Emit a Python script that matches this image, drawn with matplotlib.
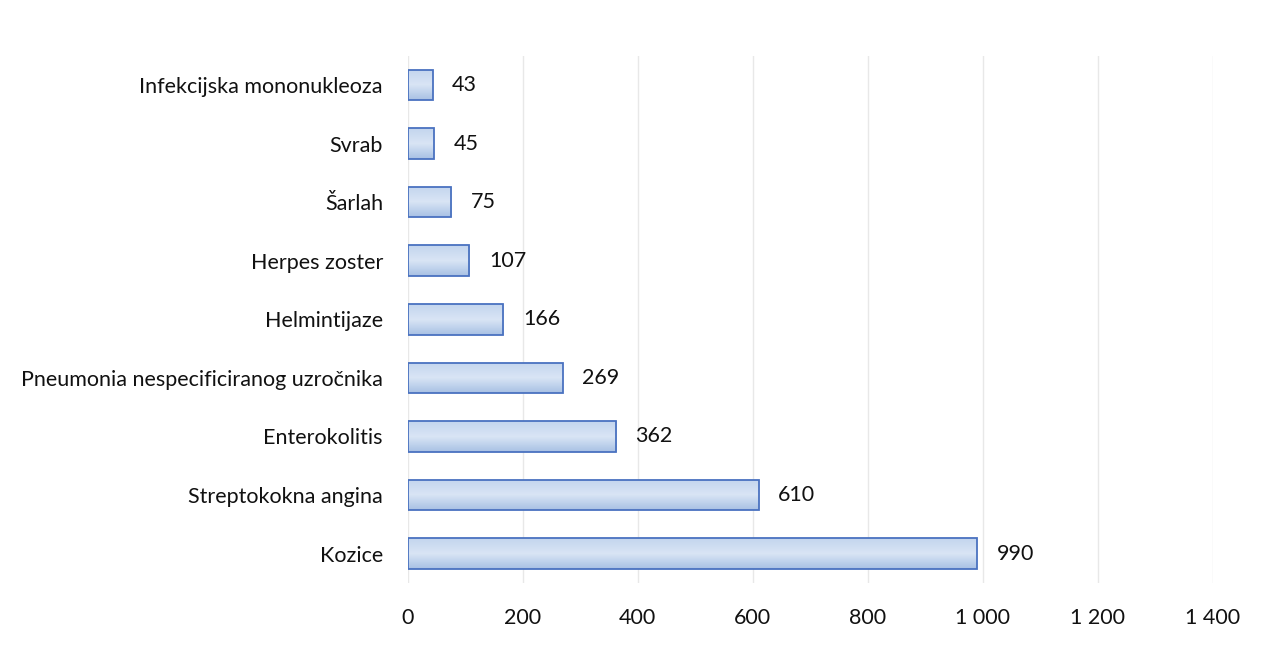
import matplotlib.pyplot as plt
import numpy as np
from matplotlib.colors import LinearSegmentedColormap

categories = ["Kozice", "Streptokokna angina", "Enterokolitis",
              "Pneumonia nespecificiranog uzročnika", "Helmintijaze",
              "Herpes zoster", "Šarlah", "Svrab", "Infekcijska mononukleoza"]
values = [990, 610, 362, 269, 166, 107, 75, 45, 43]
xticks = [0, 200, 400, 600, 800, 1000, 1200, 1400]
xtick_labels = ["0", "200", "400", "600", "800", "1 000", "1 200", "1 400"]

plt.rcParams['font.family'] = ['Lato', 'DejaVu Sans']

fig = plt.figure(figsize=(12.67, 6.55), dpi=100)
ax = fig.add_axes([0.322, 0.110, 0.635, 0.805])

y = np.arange(len(categories))
bars = ax.barh(y, values, height=0.52, color='none', edgecolor='#4a72c0',
               linewidth=1.3, zorder=3)

# gradient fill inside each bar
cmap = LinearSegmentedColormap.from_list('bar', ['#a8c1e4', '#d9e5f5', '#c3d5ee'])
grad = np.linspace(0, 1, 64).reshape(-1, 1)
for b in bars:
    x0, y0 = b.get_x(), b.get_y()
    w, h = b.get_width(), b.get_height()
    im = ax.imshow(grad, cmap=cmap, aspect='auto', extent=[x0, x0 + w, y0, y0 + h],
                   origin='lower', zorder=2)
    im.set_clip_path(b)

for yi, v in zip(y, values):
    ax.text(v + 34, yi, str(v), va='center', ha='left', fontsize=15.5, color='#111111')

ax.set_xlim(0, 1400)
ax.set_ylim(-0.5, len(categories) - 0.5)
ax.set_yticks(y)
ax.set_yticklabels(categories, fontsize=15.5, color='#111111')
ax.set_xticks(xticks)
ax.set_xticklabels(xtick_labels, fontsize=15.5, color='#111111')
ax.tick_params(length=0, pad=18, axis='x')
ax.tick_params(length=0, pad=18, axis='y')
ax.grid(axis='x', color='#e8e8e8', linewidth=1, zorder=0)
ax.set_axisbelow(True)
for s in ax.spines.values():
    s.set_visible(False)

fig.savefig('out.png', dpi=100, facecolor='white')
